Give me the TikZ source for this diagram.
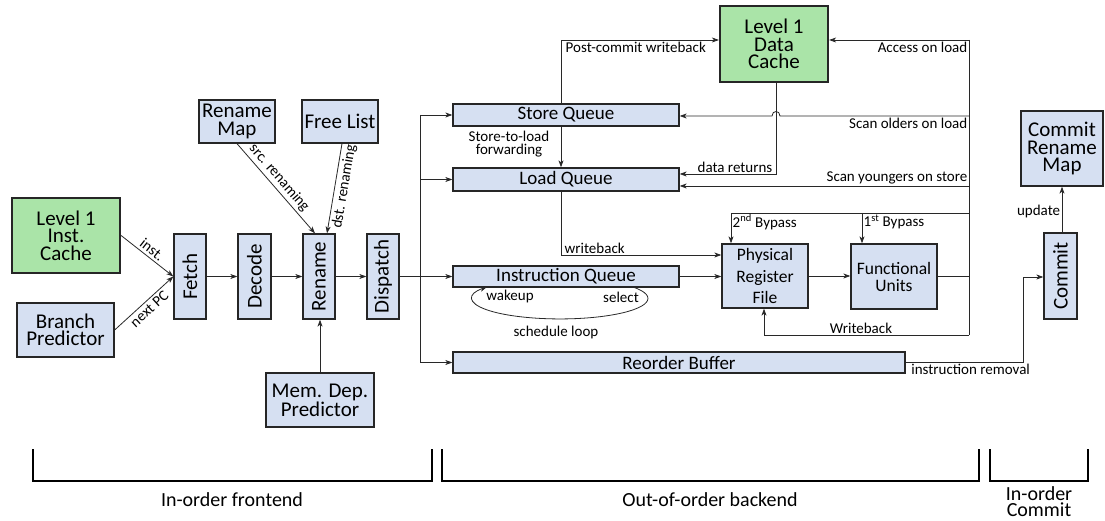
\documentclass[tikz,border=0pt]{standalone}
\usepackage{fontspec}
\setmainfont{Carlito}
\usetikzlibrary{arrows.meta}
\definecolor{boxblue}{RGB}{214,224,242}
\definecolor{boxgreen}{RGB}{170,228,168}
\definecolor{linec}{RGB}{40,40,40}
\begin{document}
\begin{tikzpicture}[x=1pt,y=-1pt,
  box/.style={draw=black!85, line width=1.3pt, fill=boxblue, inner sep=0pt, align=center, font=\fontsize{21}{17.5}\selectfont},
  gbox/.style={box, fill=boxgreen, line width=2.2pt},
  qbox/.style={box, font=\fontsize{19}{19}\selectfont},
  sbox/.style={box, font=\fontsize{17.5}{17}\selectfont},
  vtxt/.style={rotate=90, font=\fontsize{21}{21}\selectfont},
  arr/.style={draw=linec, line width=0.8pt, -{Stealth[length=7pt,width=5pt,inset=2pt]}},
  ln/.style={draw=linec, line width=0.8pt},
  lbl/.style={font=\fontsize{15}{13}\selectfont, inner sep=1.5pt, align=center},
  slbl/.style={lbl, inner sep=2.5pt},
  brk/.style={draw=black, line width=1.6pt},
  blbl/.style={font=\fontsize{20}{16}\selectfont, align=center}]
\useasboundingbox (0,0) rectangle (1105,521);

% front end
\node[gbox, minimum width=108pt, minimum height=75pt] (icache) at (66,235.5) {Level 1\\Inst.\\Cache};
\node[box, minimum width=97pt, minimum height=54pt] (bp) at (65.5,330) {Branch\\Predictor};
\node[box, minimum width=32pt, minimum height=85pt] (fetch) at (190,276.5) {};
\node[vtxt] at (fetch) {Fetch};
\node[box, minimum width=33pt, minimum height=85pt] (decode) at (254.5,276.5) {};
\node[vtxt] at (decode) {Decode};
\node[box, minimum width=32pt, minimum height=85pt] (rename) at (319,276.5) {};
\node[vtxt] at (rename) {Rename};
\node[box, minimum width=32pt, minimum height=85pt] (dispatch) at (383,276.5) {};
\node[vtxt] at (dispatch) {Dispatch};
\node[box, minimum width=76pt, minimum height=43pt] (rmap) at (237,121.5) {Rename\\Map};
\node[box, minimum width=76pt, minimum height=43pt] (flist) at (340,121.5) {Free List};
\node[box, minimum width=108pt, minimum height=54pt] (mdp) at (320,400) {Mem. Dep.\\Predictor};

% back end
\node[qbox, minimum width=226pt, minimum height=22pt] (sq) at (566,115) {Store Queue};
\node[qbox, minimum width=226pt, minimum height=23pt] (lq) at (566,179.5) {Load Queue};
\node[qbox, minimum width=226pt, minimum height=21pt] (iq) at (566,276.5) {Instruction Queue};
\node[qbox, minimum width=452pt, minimum height=21pt] (rob) at (679,362.5) {Reorder Buffer};
\node[gbox, minimum width=108pt, minimum height=76pt] (dcache) at (774,44) {Level 1\\Data\\Cache};
\node[sbox, minimum width=86pt, minimum height=64pt, font=\fontsize{17.5}{21.5}\selectfont] (prf) at (765,276) {Physical\\Register\\File};
\node[sbox, minimum width=86pt, minimum height=65pt] (fu) at (894,276.5) {Functional\\Units};

% commit
\node[box, minimum width=33pt, minimum height=86pt] (commit) at (1060.5,276) {};
\node[vtxt] at (commit) {Commit};
\node[box, minimum width=82pt, minimum height=75pt] (crm) at (1062,148.5) {Commit\\Rename\\Map};

% front-end connectors
\draw[arr] (icache.east) -- node[slbl, above, sloped] {inst.} (fetch.west);
\draw[arr] (bp.east) -- node[slbl, below, sloped] {next PC} (fetch.west);
\draw[arr] (rmap.south) -- node[slbl, above, sloped, pos=0.45] {src. renaming} ([xshift=-4pt]rename.north);
\draw[arr] ([xshift=2pt]flist.south) -- node[slbl, below, sloped, pos=0.46] {dst. renaming} ([xshift=8pt]rename.north);
\draw[arr] (mdp.north) -- (mdp.north |- rename.south);
\draw[arr] (fetch.east) -- (decode.west);
\draw[arr] (decode.east) -- (rename.west);
\draw[arr] (rename.east) -- (dispatch.west);

% dispatch bus
\coordinate (bt) at (420,115);
\coordinate (bl) at (420,179.5);
\coordinate (bm) at (420,276.5);
\coordinate (bb) at (420,362.5);
\draw[ln] (dispatch.east) -- (bm);
\draw[ln] (bt) -- (bb);
\draw[arr] (bt) -- (sq.west);
\draw[arr] (bl) -- (lq.west);
\draw[arr] (bm) -- (iq.west);
\draw[arr] (bb) -- (rob.west);

% right bus
\coordinate (rt) at (969,40);
\coordinate (so) at (969,116);
\coordinate (sy) at (969,186);
\coordinate (bpr) at (969,213);
\coordinate (rb) at (969,335);
\draw[ln] (rt) -- (rb);
\draw[arr] (rt) -- (rt -| dcache.east);
\node[lbl, below left] at (rt) {Access on load};
\draw[arr] (so) -- (780,116) .. controls (780,110) and (772,110) .. (772,116) -- (so -| sq.east);
\node[lbl, below left] at (so) {Scan olders on load};
\draw[arr] (sy) -- (sy -| lq.east);
\node[lbl, above left] at (sy) {Scan youngers on store};

% cache paths
\coordinate (pc) at (561,40);
\draw[arr] (pc |- sq.north) -- (pc) -- (pc -| dcache.west);
\node[lbl, below right] at ([xshift=3pt]pc) {Post-commit writeback};
\draw[arr] (pc |- sq.south) -- (pc |- lq.north);
\node[lbl] at (509,144) {Store-to-load\\forwarding};
\coordinate (dr) at (776,174);
\draw[arr] (dr |- dcache.south) -- (dr) -- (dr -| lq.east);
\node[lbl, above left] at ([xshift=-2pt]dr) {data returns};

% execution
\coordinate (wb) at (561,255);
\draw[arr] (pc |- lq.south) -- (wb) -- (wb -| prf.west);
\node[lbl, above right] at ([xshift=2pt]wb) {writeback};
\draw[arr] (iq.east) -- (iq.east -| prf.west);
\draw[arr] (prf.east) -- (prf.east -| fu.west);
\draw[ln] (fu.east) -- (fu.east -| rb);
\coordinate (bp2) at (731,213);
\coordinate (bp1) at (862,213);
\draw[arr] (bpr) -- (bp2) -- (bp2 |- prf.north);
\draw[arr] (bp1) -- (bp1 |- fu.north);
\node[lbl, below right] at (bp2) {2\textsuperscript{nd} Bypass};
\node[lbl, below right] at (bp1) {1\textsuperscript{st} Bypass};
\coordinate (wbl) at (764,335);
\draw[arr] (rb) -- (wbl) -- (wbl |- prf.south);
\node[lbl, above] at (861,335) {Writeback};

% schedule loop
\coordinate (ls) at (633,287);
\draw[arr] (ls) arc[start angle=-33.9, end angle=213.9, x radius=88, y radius=20.5];
\node[lbl] at (510,297) {wakeup};
\node[lbl] at (621,297) {select};
\node[lbl] at (556,333) {schedule loop};

% commit
\coordinate (ir) at (1023,362.5);
\coordinate (ir2) at (1023,277);
\draw[arr] (rob.east) -- (ir) -- (ir2) -- (ir2 -| commit.west);
\node[lbl, below right] at ([xshift=4pt]rob.east) {instruction removal};
\draw[arr] (commit.north -| crm.south) -- (crm.south) node[lbl, left, pos=0.45] {update};

% brackets
\draw[brk] (33,449) -- (33,481) -- (432,481) -- (432,449);
\draw[brk] (442,449) -- (442,481) -- (979,481) -- (979,449);
\draw[brk] (990,449) -- (990,481) -- (1088,481) -- (1088,449);
\node[blbl] (lf) at (232,500) {In-order frontend};
\node[blbl] (lb) at (710,500) {Out-of-order backend};
\node[blbl] (lc) at (1039,502) {In-order\\Commit};
\end{tikzpicture}
\end{document}
